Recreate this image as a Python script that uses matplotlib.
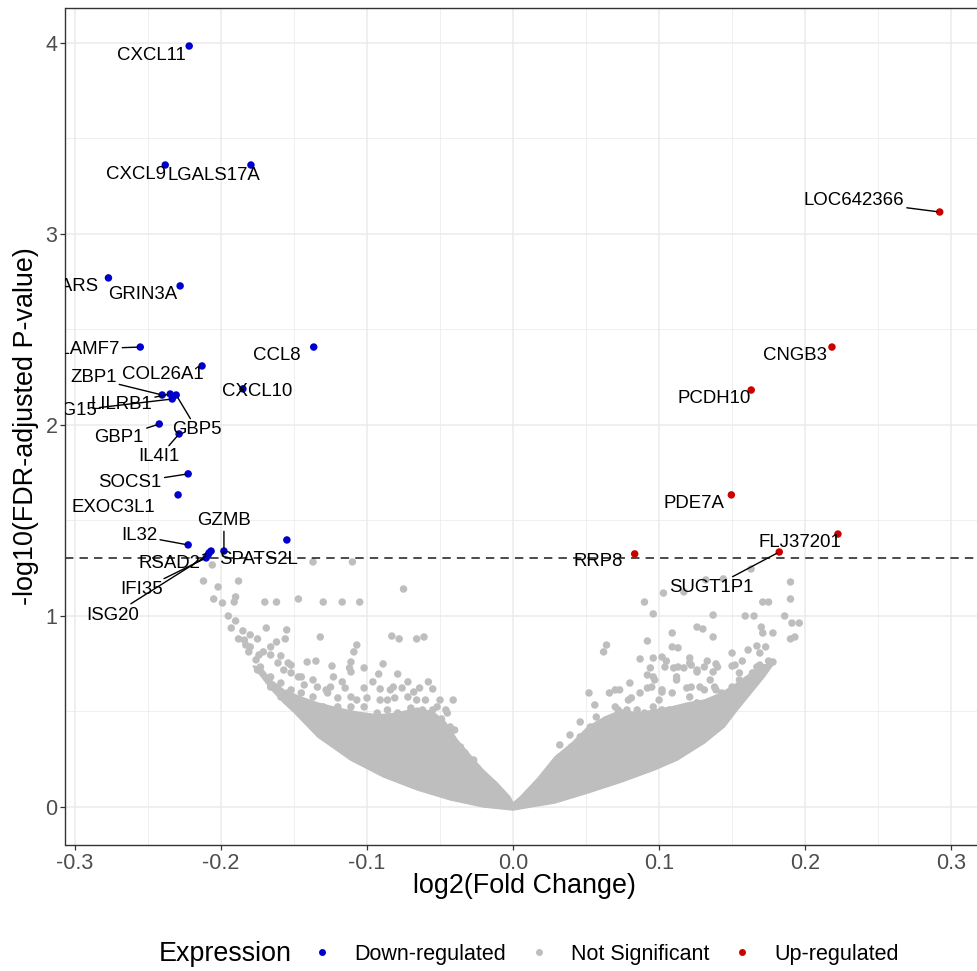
import matplotlib
matplotlib.use("Agg")
import matplotlib.pyplot as plt
from matplotlib.lines import Line2D

plt.rcParams['font.family'] = ['Liberation Sans', 'DejaVu Sans']

# --- significant genes (log2FC, -log10 FDR) ---
down_genes = ["CXCL11", "CXCL9", "LGALS17A", "WARS", "GRIN3A", "SLAMF7", "CCL8",
              "COL26A1", "ZBP1", "LILRB1", "ISG15", "GBP5", "CXCL10", "GBP1",
              "IL4I1", "SOCS1", "EXOC3L1", "IL32", "GZMB", "SPATS2L", "RSAD2",
              "IFI35", "ISG20", ""]
down_fc = [-0.2218, -0.2382, -0.1795, -0.2771, -0.2280, -0.2553, -0.1365,
           -0.2130, -0.2403, -0.2348, -0.2334, -0.2307, -0.1850, -0.2423,
           -0.2287, -0.2225, -0.2294, -0.2225, -0.1980, -0.2068, -0.2082,
           -0.2102, -0.2089, -0.1549]
down_p = [3.984, 3.361, 3.361, 2.770, 2.728, 2.408, 2.408,
          2.309, 2.157, 2.162, 2.136, 2.157, 2.189, 2.005,
          1.953, 1.744, 1.634, 1.372, 1.340, 1.340, 1.330,
          1.304, 1.319, 1.398]

up_genes = ["LOC642366", "CNGB3", "PCDH10", "PDE7A", "FLJ37201", "SUGT1P1", "RRP8"]
up_fc = [0.2922, 0.2184, 0.1631, 0.1495, 0.2225, 0.1823, 0.0833]
up_p = [3.115, 2.408, 2.183, 1.634, 1.429, 1.335, 1.325]

# --- not significant genes, individually visible points ---
ns_left_fc = [-0.206, -0.212, -0.188, -0.202, -0.205, -0.199, -0.190, -0.191, -0.170, -0.162,
              -0.147, -0.130, -0.117, -0.105, -0.137, -0.110, -0.075, -0.195, -0.190, -0.193,
              -0.185, -0.169, -0.155, -0.188, -0.180, -0.175, -0.162, -0.156, -0.132, -0.083,
              -0.078, -0.066, -0.061, -0.107, -0.109, -0.166, -0.171, -0.181, -0.183, -0.141,
              -0.135, -0.154, -0.161, -0.173, -0.176, -0.166, -0.159, -0.124, -0.111, -0.112,
              -0.102, -0.089, -0.092, -0.079, -0.072, -0.058, -0.041, -0.123, -0.117, -0.102,
              -0.091, -0.082, -0.068, -0.055, -0.064, -0.052, -0.045, -0.049, -0.043, -0.036,
              -0.033, -0.027, -0.025, -0.021, -0.014, -0.147, -0.152, -0.111, -0.143, -0.134,
              -0.125, -0.127, -0.120, -0.111, -0.107, -0.100, -0.091, -0.086, -0.081, -0.072,
              -0.066, -0.055, -0.062, -0.070, -0.079, -0.086, -0.093, -0.102, -0.111, -0.120,
              -0.130, -0.137, -0.145, -0.152, -0.050, -0.061, -0.075, -0.084, -0.093, -0.102,
              -0.111, -0.118, -0.125, -0.134, -0.141, -0.127, -0.175, -0.166, -0.159, -0.154,
              -0.150, -0.166, -0.159, -0.152, -0.145, -0.157, -0.076,
              -0.137, -0.128, -0.115, -0.096, -0.084, -0.060, -0.050, -0.046, -0.040, -0.180,
              -0.184, -0.174]
ns_left_p = [1.267, 1.183, 1.183, 1.152, 1.089, 1.068, 1.100, 1.073, 1.073, 1.073,
             1.089, 1.073, 1.073, 1.073, 1.283, 1.283, 1.141, 1.000, 0.974, 0.937,
             0.922, 0.937, 0.927, 0.880, 0.901, 0.880, 0.864, 0.880, 0.890, 0.895,
             0.880, 0.880, 0.890, 0.848, 0.812, 0.838, 0.812, 0.812, 0.848, 0.759,
             0.764, 0.754, 0.754, 0.733, 0.770, 0.796, 0.791, 0.738, 0.759, 0.728,
             0.728, 0.749, 0.696, 0.696, 0.655, 0.655, 0.560, 0.681, 0.655, 0.623,
             0.618, 0.628, 0.602, 0.618, 0.623, 0.524, 0.492, 0.461, 0.419, 0.314,
             0.283, 0.246, 0.204, 0.157, 0.105, 0.681, 0.743, 0.707, 0.639, 0.628,
             0.628, 0.597, 0.571, 0.576, 0.560, 0.571, 0.560, 0.560, 0.571, 0.576,
             0.560, 0.508, 0.508, 0.518, 0.492, 0.508, 0.492, 0.524, 0.524, 0.524,
             0.524, 0.576, 0.597, 0.613, 0.456, 0.440, 0.440, 0.440, 0.456, 0.456,
             0.466, 0.445, 0.440, 0.440, 0.471, 0.492, 0.717, 0.681, 0.649, 0.597,
             0.545, 0.628, 0.576, 0.702, 0.681, 0.717, 0.623,
             0.665, 0.613, 0.623, 0.655, 0.613, 0.560, 0.560, 0.508, 0.403, 0.838,
             0.874, 0.796]

ns_right_fc = [0.103, 0.090, 0.096, 0.064, 0.062, 0.092, 0.109, 0.109, 0.113, 0.087,
               0.096, 0.102, 0.105, 0.104, 0.110, 0.094, 0.092, 0.096, 0.112, 0.163,
               0.190, 0.190, 0.171, 0.175, 0.137, 0.159, 0.165, 0.186, 0.191, 0.196,
               0.126, 0.130, 0.137, 0.170, 0.171, 0.178, 0.193, 0.190, 0.117, 0.132,
               0.144, 0.150, 0.161, 0.167, 0.173, 0.169, 0.157, 0.175, 0.121, 0.133,
               0.139, 0.150, 0.173, 0.117, 0.126, 0.137, 0.155, 0.164, 0.167, 0.097,
               0.122, 0.126, 0.135, 0.178, 0.052, 0.066, 0.073, 0.081, 0.087, 0.092,
               0.102, 0.109, 0.119, 0.128, 0.139, 0.150, 0.160, 0.070, 0.078, 0.085,
               0.096, 0.107, 0.119, 0.130, 0.139, 0.057, 0.064, 0.046, 0.053, 0.040,
               0.032, 0.025, 0.018, 0.010, 0.095, 0.102, 0.112, 0.122, 0.131, 0.138,
               0.143, 0.158, 0.072, 0.090, 0.102, 0.117, 0.126, 0.136, 0.058, 0.047,
               0.042, 0.033, 0.027, 0.113, 0.121, 0.131, 0.140, 0.152, 0.170, 0.077,
               0.090, 0.104, 0.070, 0.085, 0.109, 0.122,
               0.032, 0.039, 0.046, 0.056, 0.079, 0.100, 0.121, 0.155, 0.169, 0.080,
               0.070]
ns_right_p = [1.120, 1.073, 1.011, 0.848, 0.812, 0.869, 0.911, 0.838, 0.833, 0.775,
              0.780, 0.785, 0.764, 0.733, 0.728, 0.728, 0.691, 0.681, 0.681, 1.246,
              1.178, 1.089, 1.073, 1.073, 1.005, 1.000, 1.000, 1.000, 0.963, 0.963,
              0.942, 0.932, 0.890, 0.942, 0.911, 0.911, 0.890, 0.880, 1.126, 1.189,
              1.194, 0.806, 0.822, 0.843, 0.838, 0.806, 0.764, 0.764, 0.780, 0.764,
              0.749, 0.738, 0.728, 0.728, 0.707, 0.707, 0.702, 0.702, 0.733, 0.665,
              0.743, 0.717, 0.665, 0.759, 0.597, 0.597, 0.613, 0.571, 0.597, 0.623,
              0.613, 0.597, 0.623, 0.628, 0.613, 0.628, 0.665, 0.524, 0.508, 0.508,
              0.524, 0.508, 0.508, 0.524, 0.560, 0.471, 0.456, 0.367, 0.419, 0.314,
              0.262, 0.178, 0.105, 0.052, 0.628, 0.602, 0.665, 0.628, 0.613, 0.628,
              0.597, 0.649, 0.508, 0.492, 0.508, 0.518, 0.545, 0.524, 0.419, 0.351,
              0.283, 0.246, 0.157, 0.733, 0.754, 0.733, 0.733, 0.743, 0.733, 0.419,
              0.403, 0.419, 0.335, 0.335, 0.367, 0.387,
              0.325, 0.377, 0.445, 0.534, 0.560, 0.560, 0.576, 0.665, 0.743, 0.649,
              0.613]

# --- envelope of the densely overplotted core of the cloud ---
left_core_fc = [-0.1782, -0.1727, -0.1659, -0.1570, -0.1502, -0.1338, -0.1113, -0.0887,
                -0.0655, -0.0430, -0.0205, 0.0, 0.0, -0.0020, -0.0109, -0.0205, -0.0294,
                -0.0382, -0.0464, -0.0546, -0.0655, -0.0792, -0.0928, -0.1065, -0.1201,
                -0.1338, -0.1454, -0.1570, -0.1659, -0.1727]
left_core_p = [0.738, 0.686, 0.618, 0.545, 0.497, 0.367, 0.246, 0.157,
               0.089, 0.037, 0.000, -0.016, 0.021, 0.052, 0.126, 0.194, 0.272,
               0.351, 0.445, 0.497, 0.518, 0.492, 0.482, 0.497, 0.518,
               0.545, 0.576, 0.613, 0.665, 0.733]
right_core_fc = [0.0, 0.0287, 0.0512, 0.0744, 0.0969, 0.1126, 0.1311, 0.1447, 0.1536,
                 0.1631, 0.1720, 0.1788, 0.1720, 0.1631, 0.1536, 0.1427, 0.1311, 0.1195,
                 0.1085, 0.0969, 0.0853, 0.0744, 0.0628, 0.0512, 0.0403, 0.0287, 0.0171,
                 0.0048, 0.0]
right_core_p = [-0.016, 0.021, 0.073, 0.131, 0.194, 0.246, 0.335, 0.419, 0.508,
                0.597, 0.681, 0.754, 0.743, 0.702, 0.649, 0.597, 0.560, 0.545,
                0.524, 0.508, 0.492, 0.508, 0.471, 0.419, 0.335, 0.262, 0.152,
                0.052, 0.021]

threshold = 1.301  # -log10(0.05)

x_ticks = [-0.3, -0.2, -0.1, 0.0, 0.1, 0.2, 0.3]
x_tick_labels = ["-0.3", "-0.2", "-0.1", "0.0", "0.1", "0.2", "0.3"]
y_ticks = [0, 1, 2, 3, 4]

legend_labels = ["Down-regulated", "Not Significant", "Up-regulated"]

# label placement: offset of label centre from point (pixels), draw segment?
label_layout = {
    "CXCL11": (-38, -9, False), "CXCL9": (-29, -9, False), "LGALS17A": (-37, -10, False),
    "WARS": (-37, -9, False), "GRIN3A": (-37, -9, False), "SLAMF7": (-57, -2, True),
    "CCL8": (-37, -8, False), "COL26A1": (-39, -9, False), "ZBP1": (-69, 17, True),
    "LILRB1": (-49, -10, True), "ISG15": (-102, -12, True), "GBP5": (21, -35, True),
    "CXCL10": (14, -3, False), "GBP1": (-40, -13, True), "IL4I1": (-20, -23, True),
    "SOCS1": (-58, -9, True), "EXOC3L1": (-65, -13, False), "IL32": (-49, 9, True),
    "GZMB": (0, 31, True), "SPATS2L": (47, -8, False), "RSAD2": (-40, -11, True),
    "IFI35": (-65, -32, True), "ISG20": (-95, -60, True),
    "LOC642366": (-86, 11, True), "CNGB3": (-37, -8, False), "PCDH10": (-37, -8, False),
    "PDE7A": (-37, -9, False), "FLJ37201": (-38, -8, False), "SUGT1P1": (-68, -36, True),
    "RRP8": (-36, -8, False),
}

GREY = "#BEBEBE"
BLUE = "#0000CD"
RED = "#CD0000"

fig = plt.figure(figsize=(9.78, 9.71), dpi=100)
ax = fig.add_axes([65.5 / 978, 126 / 971, 917.3 / 978, 837 / 971])

# not significant cloud
ax.fill(left_core_fc, left_core_p, color=GREY, lw=1.0, zorder=2)
ax.fill(right_core_fc, right_core_p, color=GREY, lw=1.0, zorder=2)
ax.scatter(ns_left_fc + ns_right_fc, ns_left_p + ns_right_p, s=29, c=GREY,
           edgecolors='none', zorder=2)

ax.axhline(threshold, color='#1a1a1a', lw=1.1, ls=(0, (5.5, 4)), zorder=2.5)

ax.scatter(down_fc, down_p, s=29, c=BLUE, edgecolors='none', zorder=3)
ax.scatter(up_fc, up_p, s=29, c=RED, edgecolors='none', zorder=3)

# gene labels
for genes, fcs, ps in [(down_genes, down_fc, down_p), (up_genes, up_fc, up_p)]:
    for g, fx, py in zip(genes, fcs, ps):
        if not g:
            continue
        dx, dy, seg = label_layout[g]
        kw = {}
        if seg:
            kw['arrowprops'] = dict(arrowstyle='-', color='black', lw=1.0,
                                    shrinkA=0, shrinkB=2)
        ax.annotate(g, (fx, py), xytext=(dx, dy), textcoords='offset pixels',
                    ha='center', va='center', fontsize=13.4, color='black',
                    clip_on=True, zorder=4, **kw)

ax.set_xlim(-0.3065, 0.3217)
ax.set_ylim(-0.199, 4.183)

ax.set_xticks(x_ticks)
ax.set_xticklabels(x_tick_labels)
ax.set_yticks(y_ticks)
ax.set_xticks([-0.25, -0.15, -0.05, 0.05, 0.15, 0.25], minor=True)
ax.set_yticks([0.5, 1.5, 2.5, 3.5], minor=True)
ax.grid(which='major', color='#EBEBEB', lw=1.1, zorder=0)
ax.grid(which='minor', color='#EBEBEB', lw=0.55, zorder=0)
ax.set_axisbelow(True)
ax.tick_params(which='major', length=3.3, width=0.9, color='#333333',
               labelsize=15.5, labelcolor='#4D4D4D', pad=2.5)
ax.tick_params(which='minor', length=0)
for sp in ax.spines.values():
    sp.set_color('#333333')
    sp.set_linewidth(1.0)

ax.set_xlabel("log2(Fold Change)", fontsize=19.4)
ax.xaxis.set_label_coords(0.5, -0.034)
ax.set_ylabel("-log10(FDR-adjusted P-value)", fontsize=19.4)
ax.yaxis.set_label_coords(-0.0285, 0.5)

# legend
fig.text(159 / 978, 0.0175, "Expression", fontsize=19.4, ha='left', va='center')
handles = [Line2D([], [], ls='none', marker='o', markersize=5, color=c,
                  markeredgewidth=0) for c in (BLUE, GREY, RED)]
fig.legend(handles, legend_labels, loc='center left', bbox_to_anchor=(311 / 978, 0.0175),
           ncol=3, frameon=False, handlelength=1.0, handletextpad=1.0,
           columnspacing=1.03, borderpad=0, borderaxespad=0, fontsize=15.5)

fig.savefig("out.png", dpi=100)
